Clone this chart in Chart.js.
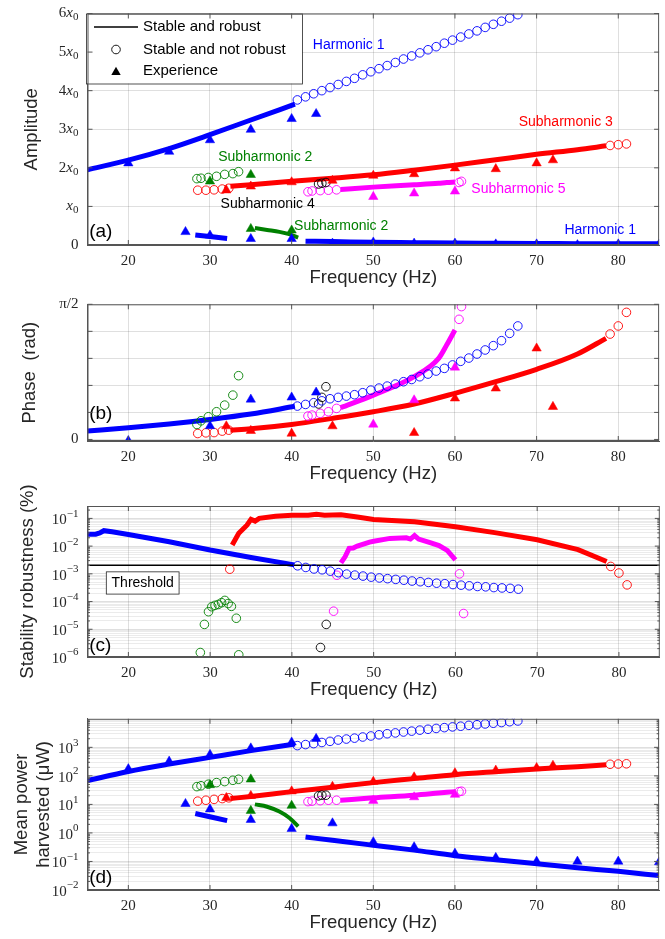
<!DOCTYPE html>
<html>
<head>
<meta charset="utf-8">
<script src="https://cdn.jsdelivr.net/npm/chart.js@4.4.1/dist/chart.umd.min.js"></script>
<style>
  body { margin: 0; background: #fff; width: 665px; height: 939px; position: relative; overflow: hidden; }
  .panel { position: absolute; left: 0; width: 665px; }
</style>
</head>
<body>
<div class="panel" style="top:0px;height:289px"><canvas id="ampChart"></canvas></div>
<div class="panel" style="top:290px;height:195px"><canvas id="phaseChart"></canvas></div>
<div class="panel" style="top:470px;height:231px"><canvas id="robustChart"></canvas></div>
<div class="panel" style="top:702px;height:232px"><canvas id="powerChart"></canvas></div>
<script>
// ---- frequencies (Hz) ----
const freqTicks = [20, 30, 40, 50, 60, 70, 80];
const h1CircFreq = [40.7, 41.7, 42.7, 43.7, 44.7, 45.7, 46.7, 47.7, 48.7, 49.7, 50.7, 51.7, 52.7, 53.7, 54.7, 55.7, 56.7, 57.7, 58.7, 59.7, 60.7, 61.7, 62.7, 63.7, 64.7, 65.7, 66.7, 67.7];
const h1LineFreq = [15, 20, 25, 30, 35, 40.4];
const h1LowLineFreq = [41.7, 45, 50, 55, 60, 65, 70, 75, 80, 85];
const h1ShortFreq = [28.2, 32.1];
const h1ExpFreq = [20, 25, 30, 35, 40, 43];
const h1LowExpFreq = [27, 30, 35, 40, 45, 50, 55, 60, 65, 70, 75, 80, 85];
const sub2CircFreq = [28.4, 28.9, 29.8, 30.8, 31.8, 32.8, 33.5];
const sub2LineFreq = [35.5, 37, 38.5, 39.7, 40.8];
const sub2ExpFreq = [30, 35];
const sub2LowExpFreq = [35, 40];
const sub3LineFreq = [32.5, 35, 40, 45, 50, 55, 60, 65, 70, 75, 78.5];
const sub3CircFreqL = [28.5, 29.5, 30.5, 31.5, 32.3];
const sub3CircFreqR = [79, 80, 81];
const sub3ExpFreq = [32, 35, 40, 45, 50, 55, 60, 65, 70, 72];
const sub4CircFreq = [43.3, 43.7, 44.2];
const sub5LineFreq = [46, 50, 55, 58, 59, 60];
const sub5CircFreqL = [42, 42.5, 43.5, 44.5, 45.5];
const sub5CircFreqR = [60.5, 60.8];
const sub5ExpFreq = [50, 55, 60];

// ---- (a) amplitude, in units of x0 ----
const ampTicks = [0, 1, 2, 3, 4, 5, 6];
const ampTickLabels = ['0', 'x₀', '2x₀', '3x₀', '4x₀', '5x₀', '6x₀'];
const ampH1Line = [1.95, 2.2, 2.5, 2.86, 3.24, 3.65];
const ampH1Circ = [3.76, 3.84, 3.92, 4.0, 4.08, 4.16, 4.24, 4.32, 4.41, 4.49, 4.57, 4.65, 4.73, 4.82, 4.9, 4.98, 5.06, 5.14, 5.23, 5.31, 5.39, 5.47, 5.55, 5.64, 5.72, 5.8, 5.88, 5.97];
const ampH1Exp = [2.12, 2.42, 2.72, 2.99, 3.27, 3.4];
const ampH1LowLine = [0.1, 0.09, 0.07, 0.06, 0.05, 0.045, 0.04, 0.035, 0.03, 0.03];
const ampH1LowExp = [0.34, 0.25, 0.16, 0.16, 0.04, 0.07, 0.04, 0.04, 0.02, 0.02, 0.0, 0.02, 0.02];
const ampH1Short = [0.26, 0.17];
const ampSub2Circ = [1.72, 1.73, 1.75, 1.78, 1.83, 1.85, 1.9];
const ampSub2Line = [0.44, 0.39, 0.34, 0.28, 0.19];
const ampSub2Exp = [1.65, 1.82];
const ampSub2LowExp = [0.42, 0.38];
const ampSub3Line = [1.52, 1.56, 1.65, 1.73, 1.82, 1.94, 2.07, 2.21, 2.35, 2.47, 2.57];
const ampSub3CircL = [1.42, 1.42, 1.43, 1.45, 1.47];
const ampSub3CircR = [2.58, 2.6, 2.62];
const ampSub3Exp = [1.42, 1.52, 1.63, 1.67, 1.8, 1.84, 1.99, 1.97, 2.12, 2.2];
const ampSub4Circ = [1.58, 1.6, 1.62];
const ampSub5Line = [1.44, 1.5, 1.56, 1.6, 1.62, 1.63];
const ampSub5CircL = [1.38, 1.4, 1.41, 1.42, 1.43];
const ampSub5CircR = [1.62, 1.65];
const ampSub5Exp = [1.25, 1.34, 1.39];

// ---- (b) phase (rad) ----
const phaseTicks = [0, Math.PI / 10, Math.PI / 5, 3 * Math.PI / 10, 2 * Math.PI / 5, Math.PI / 2];
const phaseTickLabels = ['0', '', '', '', '', 'π/2'];
const phH1Line = [0.097, 0.135, 0.179, 0.232, 0.295, 0.385];
const phH1Circ = [0.388, 0.407, 0.427, 0.449, 0.473, 0.489, 0.504, 0.52, 0.543, 0.573, 0.597, 0.62, 0.644, 0.671, 0.697, 0.729, 0.76, 0.795, 0.826, 0.866, 0.908, 0.946, 0.993, 1.04, 1.09, 1.148, 1.233, 1.319];
const phH1ExpFreq = [20, 30, 35, 40, 43];
const phH1Exp = [-0.016, 0.157, 0.465, 0.489, 0.547];
const phSub2Circ = [0.174, 0.217, 0.264, 0.322, 0.399, 0.515, 0.741];
const phSub3Line = [0.108, 0.124, 0.174, 0.245, 0.322, 0.412, 0.536, 0.671, 0.815, 0.993, 1.175];
const phSub3CircL = [0.069, 0.077, 0.08, 0.097, 0.108];
const phSub3CircR = [1.225, 1.319, 1.477];
const phSub3ExpFreq = [32, 35, 40, 45, 55, 60, 65, 70, 72];
const phSub3Exp = [0.155, 0.101, 0.069, 0.155, 0.077, 0.478, 0.594, 1.059, 0.38];
const phSub4Circ = [0.412, 0.489, 0.613];
const phSub5Line = [0.369, 0.515, 0.729, 0.942, 1.1, 1.272];
const phSub5CircL = [0.272, 0.283, 0.303, 0.322, 0.361];
const phSub5CircR = [1.396, 1.544];
const phSub5Exp = [0.174, 0.457, 0.837];

// ---- (c) stability robustness (%) ----
const rbH1LineFreq = [15, 16, 16.5, 17, 18, 20, 25, 30, 35, 40.3];
const rbH1Line = [0.027, 0.027, 0.03, 0.036, 0.033, 0.0264, 0.0144, 0.0072, 0.0039, 0.0021];
const rbH1Circ = [1.95e-3, 1.7e-3, 1.5e-3, 1.4e-3, 1.25e-3, 1.1e-3, 9.8e-4, 9.0e-4, 8.3e-4, 7.6e-4, 7.1e-4, 6.7e-4, 6.3e-4, 5.9e-4, 5.5e-4, 5.2e-4, 4.9e-4, 4.6e-4, 4.4e-4, 4.1e-4, 3.9e-4, 3.7e-4, 3.5e-4, 3.4e-4, 3.2e-4, 3.1e-4, 3.0e-4, 2.8e-4];
const rbSub3LineFreq = [32.7, 33.5, 34.5, 35, 35.5, 36, 38, 40, 42, 43, 44, 46, 48, 50, 55, 60, 65, 70, 75, 78.5];
const rbSub3Line = [0.011, 0.029, 0.057, 0.092, 0.08, 0.1, 0.12, 0.13, 0.13, 0.14, 0.13, 0.135, 0.112, 0.092, 0.075, 0.05, 0.03, 0.017, 0.0075, 0.0028];
const rbSub3CircFreq = [32.4, 79, 80, 81];
const rbSub3Circ = [1.47e-3, 1.85e-3, 1.07e-3, 4e-4];
const rbSub5LineFreq = [46, 46.5, 47, 47.5, 48, 49.5, 50, 52, 54, 54.5, 55, 55.5, 57, 58, 59, 60];
const rbSub5Line = [2.5e-3, 4.1e-3, 8.3e-3, 8.5e-3, 1e-2, 1.4e-2, 1.5e-2, 1.9e-2, 2e-2, 1.8e-2, 2.4e-2, 1.8e-2, 1.3e-2, 1.05e-2, 7e-3, 3.2e-3];
const rbSub5CircFreq = [45.1, 45.5, 60.5, 61];
const rbSub5Circ = [4.5e-5, 8.9e-4, 1e-3, 3.7e-5];
const rbSub2CircFreq = [28.8, 29.3, 29.8, 30.2, 30.6, 31, 31.4, 31.8, 32.2, 32.6, 33.2, 33.5];
const rbSub2Circ = [1.45e-6, 1.5e-5, 4.3e-5, 6.5e-5, 7.3e-5, 7.9e-5, 9.1e-5, 1.1e-4, 8.5e-5, 6.7e-5, 2.5e-5, 1.2e-6];
const rbSub4CircFreq = [43.5, 44.2];
const rbSub4Circ = [2.2e-6, 1.5e-5];
const thresholdFreq = [15, 85];
const thresholdVal = [2.05e-3, 2.05e-3];

// ---- (d) mean power harvested (µW) ----
const pwH1Line = [68, 143, 260, 445, 765, 1300];
const pwH1Circ = [1150, 1250, 1350, 1480, 1620, 1800, 1950, 2100, 2300, 2500, 2750, 3000, 3200, 3450, 3700, 4000, 4300, 4600, 4900, 5200, 5500, 5900, 6200, 6600, 7000, 7400, 7900, 8400];
const pwH1Exp = [174, 320, 550, 930, 1500, 2000];
const pwH1LowLine = [0.72, 0.55, 0.37, 0.25, 0.16, 0.115, 0.083, 0.06, 0.045, 0.032];
const pwH1LowExp = [10.5, 6.8, 2.9, 1.4, 2.2, 0.48, 0.32, 0.19, 0.135, 0.1, 0.1, 0.1, 0.095];
const pwH1Short = [4.8, 2.7];
const pwSub2Circ = [42, 45, 51, 58, 63, 70, 76];
const pwSub2Line = [10, 8.3, 5.6, 3.4, 1.7];
const pwSub2Exp = [48, 76];
const pwSub2LowExp = [6, 9.1];
const pwSub3Line = [16, 19, 28, 40, 58, 80, 110, 140, 175, 210, 245];
const pwSub3CircL = [13, 14, 15, 16, 17];
const pwSub3CircR = [255, 260, 265];
const pwSub3Exp = [17, 20, 29, 42, 63, 90, 125, 155, 190, 230];
const pwSub4Circ = [20, 21, 21];
const pwSub5Line = [14, 17, 21, 25, 26.5, 28];
const pwSub5CircL = [12.5, 13, 13.5, 14, 14];
const pwSub5CircR = [28, 29];
const pwSub5Exp = [13.5, 18, 22];

// ---- styles ----
const SANS = '"Liberation Sans", Arial, sans-serif';
const SERIF = '"Liberation Serif", "DejaVu Serif", serif';
const INK = '#262626';
const AXIS = '#555';
const GRID = 'rgba(38,38,38,0.15)';
const GRID_MINOR = 'rgba(38,38,38,0.09)';
const BLUE = '#0000ff', RED = '#ff0000', MAGENTA = '#ff00ff', GREEN = '#008000', BLACK = '#000000';

const pts = (xs, ys) => xs.map((x, i) => ({ x, y: ys[i] }));

function lineSet(xs, ys, color, width = 5, smooth = true) {
  return { data: pts(xs, ys), showLine: true, borderColor: color, borderWidth: width, pointRadius: 0,
    cubicInterpolationMode: smooth ? 'monotone' : 'default', tension: smooth ? 0.4 : 0, borderCapStyle: 'butt' };
}
function circSet(xs, ys, color) {
  return { data: pts(xs, ys), showLine: false, pointStyle: 'circle', pointRadius: 4.3,
    pointBorderWidth: 0.9, borderColor: color, backgroundColor: 'rgba(0,0,0,0)' };
}
function triSet(xs, ys, color) {
  return { data: pts(xs, ys), showLine: false, pointStyle: 'triangle', pointRadius: 5.4,
    pointBorderWidth: 0.5, borderColor: color, backgroundColor: color };
}

const isDecade = v => Math.abs(Math.log10(v) - Math.round(Math.log10(v))) < 1e-6;
const SUP = { '-': '⁻', '0': '⁰', '1': '¹', '2': '²', '3': '³', '4': '⁴', '5': '⁵', '6': '⁶', '7': '⁷', '8': '⁸', '9': '⁹' };
const logLabel = v => isDecade(v) ? '10' + String(Math.round(Math.log10(v))).split('').map(c => SUP[c]).join('') : '';

// tick values 1..9 x 10^n between lo and hi (hi excluded)
function logTicks(lo, hi) {
  const out = [];
  for (let e = Math.floor(Math.log10(lo)); e <= Math.ceil(Math.log10(hi)); e++) {
    for (let k = 1; k <= 9; k++) {
      const v = Number((k * Math.pow(10, e)).toPrecision(6));
      if (v >= lo * 0.999 && v < hi * 0.999) out.push(v);
    }
  }
  return out;
}

// split "2x₀" / "10⁻³" into runs drawn like LaTeX (italic x, sub/superscripts)
const SUP_BACK = { '⁻': '−', '⁰': '0', '¹': '1', '²': '2', '³': '3', '⁴': '4', '⁵': '5', '⁶': '6', '⁷': '7', '⁸': '8', '⁹': '9' };
const SUB_BACK = { '₀': '0', '₁': '1', '₂': '2' };
function splitLabel(str) {
  const runs = [];
  for (const ch of str) {
    let kind = 'n', t = ch;
    if (SUP_BACK[ch]) { kind = 'sup'; t = SUP_BACK[ch]; }
    else if (SUB_BACK[ch]) { kind = 'sub'; t = SUB_BACK[ch]; }
    else if (ch === 'x') kind = 'it';
    const last = runs[runs.length - 1];
    if (last && last.kind === kind) last.t += t; else runs.push({ kind, t });
  }
  return runs;
}
const runFont = r => (r.kind === 'it' ? 'italic ' : '') + ((r.kind === 'sup' || r.kind === 'sub') ? 11 : 15) + 'px ' + SERIF;

const yLabelPlugin = labelFn => ({
  id: 'yLabels',
  afterDraw(chart) {
    const { ctx, chartArea: a, scales: { y } } = chart;
    ctx.save();
    ctx.fillStyle = INK;
    ctx.textBaseline = 'middle';
    y.ticks.forEach((t, i) => {
      const label = labelFn(t.value, i);
      if (!label) return;
      const runs = splitLabel(label);
      const hasSup = runs.some(r => r.kind === 'sup');
      let w = 0;
      runs.forEach(r => { ctx.font = runFont(r); r.w = ctx.measureText(r.t).width; w += r.w; });
      let px = a.left - 9 - w;
      const py = y.getPixelForValue(t.value);
      runs.forEach(r => {
        const dy = r.kind === 'sup' ? -4.5 : r.kind === 'sub' ? 4 : (hasSup ? 2 : 0);
        ctx.font = runFont(r);
        ctx.fillText(r.t, px, py + dy);
        px += r.w;
      });
    });
    ctx.restore();
  }
});

function xAxis() {
  return {
    type: 'linear', min: 15, max: 85,
    afterBuildTicks: s => { s.ticks = freqTicks.map(v => ({ value: v })); },
    afterFit: s => { s.height = 44; },
    ticks: { font: { family: SERIF, size: 15 }, color: INK, padding: 7, autoSkip: false, maxRotation: 0, callback: v => String(v) },
    grid: { color: GRID, drawTicks: false },
    border: { color: AXIS },
    title: { display: true, text: 'Frequency (Hz)', color: INK, font: { family: SANS, size: 18.5, lineHeight: 1.2 }, padding: 0 }
  };
}

function yAxis(type, min, max, tickVals, title, titlePad) {
  return {
    type, min, max,
    afterBuildTicks: s => { s.ticks = tickVals.map(v => ({ value: v })); },
    afterFit: s => { s.width = 87.5; },
    ticks: { display: false, autoSkip: false },
    grid: { drawTicks: false, color: c => (type === 'logarithmic' && c.tick && !isDecade(c.tick.value)) ? GRID_MINOR : GRID },
    border: { color: AXIS },
    title: { display: true, text: title, color: INK, font: { family: SANS, size: 18.5, lineHeight: 1.2 }, padding: { top: titlePad, bottom: 0 } }
  };
}

// box round the axes and inner tick marks, like the original
const framePlugin = {
  id: 'frame',
  afterDraw(chart) {
    const { ctx, chartArea: a, scales: { x, y } } = chart;
    ctx.save();
    ctx.strokeStyle = AXIS;
    ctx.lineWidth = 1;
    ctx.strokeRect(a.left + 0.5, a.top + 0.5, a.right - a.left - 1, a.bottom - a.top - 1);
    ctx.beginPath();
    x.ticks.forEach(t => {
      const px = x.getPixelForValue(t.value);
      ctx.moveTo(px, a.bottom); ctx.lineTo(px, a.bottom - 5);
      ctx.moveTo(px, a.top); ctx.lineTo(px, a.top + 5);
    });
    y.ticks.forEach(t => {
      const py = y.getPixelForValue(t.value);
      const len = (y.type === 'logarithmic' && !isDecade(t.value)) ? 2.5 : 5;
      ctx.moveTo(a.left, py); ctx.lineTo(a.left + len, py);
      ctx.moveTo(a.right, py); ctx.lineTo(a.right - len, py);
    });
    ctx.stroke();
    ctx.restore();
  }
};

const notesPlugin = notes => ({
  id: 'notes',
  afterDatasetsDraw(chart) {
    const { ctx, scales: { x, y } } = chart;
    ctx.save();
    ctx.textBaseline = 'middle';
    notes.forEach(n => {
      ctx.font = `${n.size || 14}px ${SANS}`;
      ctx.fillStyle = n.color || BLACK;
      ctx.fillText(n.text, x.getPixelForValue(n.x), y.getPixelForValue(n.y));
    });
    ctx.restore();
  }
});

// legend of panel (a): line / circle / triangle
const legendPlugin = {
  id: 'markLegend',
  afterDatasetsDraw(chart) {
    const { ctx, chartArea: a } = chart;
    const left = a.left - 1.5, top = a.top, w = 216, h = 70;
    ctx.save();
    ctx.fillStyle = '#fff';
    ctx.fillRect(left, top, w, h);
    ctx.strokeStyle = INK;
    ctx.lineWidth = 0.8;
    ctx.strokeRect(left + 0.5, top + 0.5, w, h);
    const rows = [top + 13.5, top + 36, top + 57.7];
    ctx.strokeStyle = BLACK;
    ctx.lineWidth = 1.5;
    ctx.beginPath(); ctx.moveTo(left + 8, rows[0]); ctx.lineTo(left + 52, rows[0]); ctx.stroke();
    ctx.lineWidth = 0.9;
    ctx.beginPath(); ctx.arc(left + 30, rows[1], 4.3, 0, Math.PI * 2); ctx.stroke();
    const r = 5.4, cx = left + 30, cy = rows[2] + 1;
    ctx.fillStyle = BLACK;
    ctx.beginPath();
    ctx.moveTo(cx, cy - r);
    ctx.lineTo(cx + r * Math.sin(Math.PI / 3), cy + r / 2);
    ctx.lineTo(cx - r * Math.sin(Math.PI / 3), cy + r / 2);
    ctx.closePath(); ctx.fill();
    ctx.font = `15px ${SANS}`;
    ctx.textBaseline = 'middle';
    ['Stable and robust', 'Stable and not robust', 'Experience'].forEach((t, i) => ctx.fillText(t, left + 57, rows[i]));
    ctx.restore();
  }
};

// "Threshold" label box of panel (c)
const thresholdBox = { x0: 17.3, x1: 26.2, yTop: 1.18e-3, yBottom: 1.86e-4 };
const thresholdPlugin = {
  id: 'thresholdBox',
  afterDatasetsDraw(chart) {
    const { ctx, scales: { x, y } } = chart;
    const l = x.getPixelForValue(thresholdBox.x0), r = x.getPixelForValue(thresholdBox.x1);
    const t = y.getPixelForValue(thresholdBox.yTop), b = y.getPixelForValue(thresholdBox.yBottom);
    ctx.save();
    ctx.fillStyle = '#fff';
    ctx.fillRect(l, t, r - l, b - t);
    ctx.strokeStyle = INK;
    ctx.lineWidth = 0.8;
    ctx.strokeRect(l, t, r - l, b - t);
    ctx.fillStyle = BLACK;
    ctx.font = `14px ${SANS}`;
    ctx.textAlign = 'center';
    ctx.textBaseline = 'middle';
    ctx.fillText('Threshold', (l + r) / 2, (t + b) / 2 + 0.5);
    ctx.restore();
  }
};

function makeChart(id, padTop, yScale, labelFn, datasets, plugins) {
  return new Chart(document.getElementById(id), {
    type: 'scatter',
    data: { datasets },
    options: {
      animation: false,
      responsive: true,
      maintainAspectRatio: false,
      devicePixelRatio: 1,
      layout: { padding: { top: padTop, right: 0, bottom: 0, left: 0 } },
      plugins: { legend: { display: false }, tooltip: { enabled: false } },
      scales: { x: xAxis(), y: yScale }
    },
    plugins: [framePlugin, yLabelPlugin(labelFn), ...plugins]
  });
}

// (a) Amplitude -- first datasets are drawn on top
makeChart('ampChart', 13.5,
  yAxis('linear', 0, 6, ampTicks, 'Amplitude', 20.6), (v, i) => ampTickLabels[i],
  [
    triSet(h1ExpFreq, ampH1Exp, BLUE),
    triSet(h1LowExpFreq, ampH1LowExp, BLUE),
    triSet(sub2ExpFreq, ampSub2Exp, GREEN),
    triSet(sub2LowExpFreq, ampSub2LowExp, GREEN),
    triSet(sub3ExpFreq, ampSub3Exp, RED),
    triSet(sub5ExpFreq, ampSub5Exp, MAGENTA),
    circSet(h1CircFreq, ampH1Circ, BLUE),
    circSet(sub2CircFreq, ampSub2Circ, GREEN),
    circSet(sub3CircFreqL, ampSub3CircL, RED),
    circSet(sub3CircFreqR, ampSub3CircR, RED),
    circSet(sub4CircFreq, ampSub4Circ, BLACK),
    circSet(sub5CircFreqL, ampSub5CircL, MAGENTA),
    circSet(sub5CircFreqR, ampSub5CircR, MAGENTA),
    lineSet(h1LineFreq, ampH1Line, BLUE),
    lineSet(h1LowLineFreq, ampH1LowLine, BLUE),
    lineSet(h1ShortFreq, ampH1Short, BLUE),
    lineSet(sub2LineFreq, ampSub2Line, GREEN, 4),
    lineSet(sub3LineFreq, ampSub3Line, RED),
    lineSet(sub5LineFreq, ampSub5Line, MAGENTA)
  ],
  [notesPlugin([
    { x: 42.6, y: 5.18, text: 'Harmonic 1', color: BLUE },
    { x: 67.8, y: 3.18, text: 'Subharmonic 3', color: RED },
    { x: 31.0, y: 2.29, text: 'Subharmonic 2', color: GREEN },
    { x: 62.0, y: 1.45, text: 'Subharmonic 5', color: MAGENTA },
    { x: 31.3, y: 1.06, text: 'Subharmonic 4', color: BLACK },
    { x: 40.3, y: 0.49, text: 'Subharmonic 2', color: GREEN },
    { x: 73.4, y: 0.39, text: 'Harmonic 1', color: BLUE },
    { x: 15.2, y: 0.34, text: '(a)', size: 19 }
  ]), legendPlugin]);

// (b) Phase
makeChart('phaseChart', 14.3,
  yAxis('linear', -0.018, Math.PI / 2, phaseTicks, 'Phase  (rad)', 19), (v, i) => phaseTickLabels[i],
  [
    triSet(phH1ExpFreq, phH1Exp, BLUE),
    triSet(phSub3ExpFreq, phSub3Exp, RED),
    triSet(sub5ExpFreq, phSub5Exp, MAGENTA),
    circSet(h1CircFreq, phH1Circ, BLUE),
    circSet(sub2CircFreq, phSub2Circ, GREEN),
    circSet(sub3CircFreqL, phSub3CircL, RED),
    circSet(sub3CircFreqR, phSub3CircR, RED),
    circSet(sub4CircFreq, phSub4Circ, BLACK),
    circSet(sub5CircFreqL, phSub5CircL, MAGENTA),
    circSet(sub5CircFreqR, phSub5CircR, MAGENTA),
    lineSet(h1LineFreq, phH1Line, BLUE),
    lineSet(sub3LineFreq, phSub3Line, RED),
    lineSet(sub5LineFreq, phSub5Line, MAGENTA)
  ],
  [notesPlugin([{ x: 15.2, y: 0.3, text: '(b)', size: 19 }])]);

// (c) Stability robustness
makeChart('robustChart', 36,
  yAxis('logarithmic', 1e-6, 0.28, logTicks(1e-6, 0.28), 'Stability robustness (%)', 17.2), logLabel,
  [
    circSet(h1CircFreq, rbH1Circ, BLUE),
    circSet(rbSub2CircFreq, rbSub2Circ, GREEN),
    circSet(rbSub3CircFreq, rbSub3Circ, RED),
    circSet(rbSub4CircFreq, rbSub4Circ, BLACK),
    circSet(rbSub5CircFreq, rbSub5Circ, MAGENTA),
    lineSet(thresholdFreq, thresholdVal, BLACK, 1.5, false),
    lineSet(rbH1LineFreq, rbH1Line, BLUE, 5, false),
    lineSet(rbSub3LineFreq, rbSub3Line, RED, 5, false),
    lineSet(rbSub5LineFreq, rbSub5Line, MAGENTA, 5, false)
  ],
  [notesPlugin([{ x: 15.2, y: 2.5e-6, text: '(c)', size: 19 }]), thresholdPlugin]);

// (d) Mean power harvested
makeChart('powerChart', 16.8,
  yAxis('logarithmic', 1e-2, 1e4, logTicks(1e-2, 1e4), ['Mean power', 'harvested (μW)'], 11), logLabel,
  [
    triSet(h1ExpFreq, pwH1Exp, BLUE),
    triSet(h1LowExpFreq, pwH1LowExp, BLUE),
    triSet(sub2ExpFreq, pwSub2Exp, GREEN),
    triSet(sub2LowExpFreq, pwSub2LowExp, GREEN),
    triSet(sub3ExpFreq, pwSub3Exp, RED),
    triSet(sub5ExpFreq, pwSub5Exp, MAGENTA),
    circSet(h1CircFreq, pwH1Circ, BLUE),
    circSet(sub2CircFreq, pwSub2Circ, GREEN),
    circSet(sub3CircFreqL, pwSub3CircL, RED),
    circSet(sub3CircFreqR, pwSub3CircR, RED),
    circSet(sub4CircFreq, pwSub4Circ, BLACK),
    circSet(sub5CircFreqL, pwSub5CircL, MAGENTA),
    circSet(sub5CircFreqR, pwSub5CircR, MAGENTA),
    lineSet(h1LineFreq, pwH1Line, BLUE),
    lineSet(h1LowLineFreq, pwH1LowLine, BLUE),
    lineSet(h1ShortFreq, pwH1Short, BLUE),
    lineSet(sub2LineFreq, pwSub2Line, GREEN, 4),
    lineSet(sub3LineFreq, pwSub3Line, RED),
    lineSet(sub5LineFreq, pwSub5Line, MAGENTA)
  ],
  [notesPlugin([{ x: 15.2, y: 0.026, text: '(d)', size: 19 }])]);
</script>
</body>
</html>
